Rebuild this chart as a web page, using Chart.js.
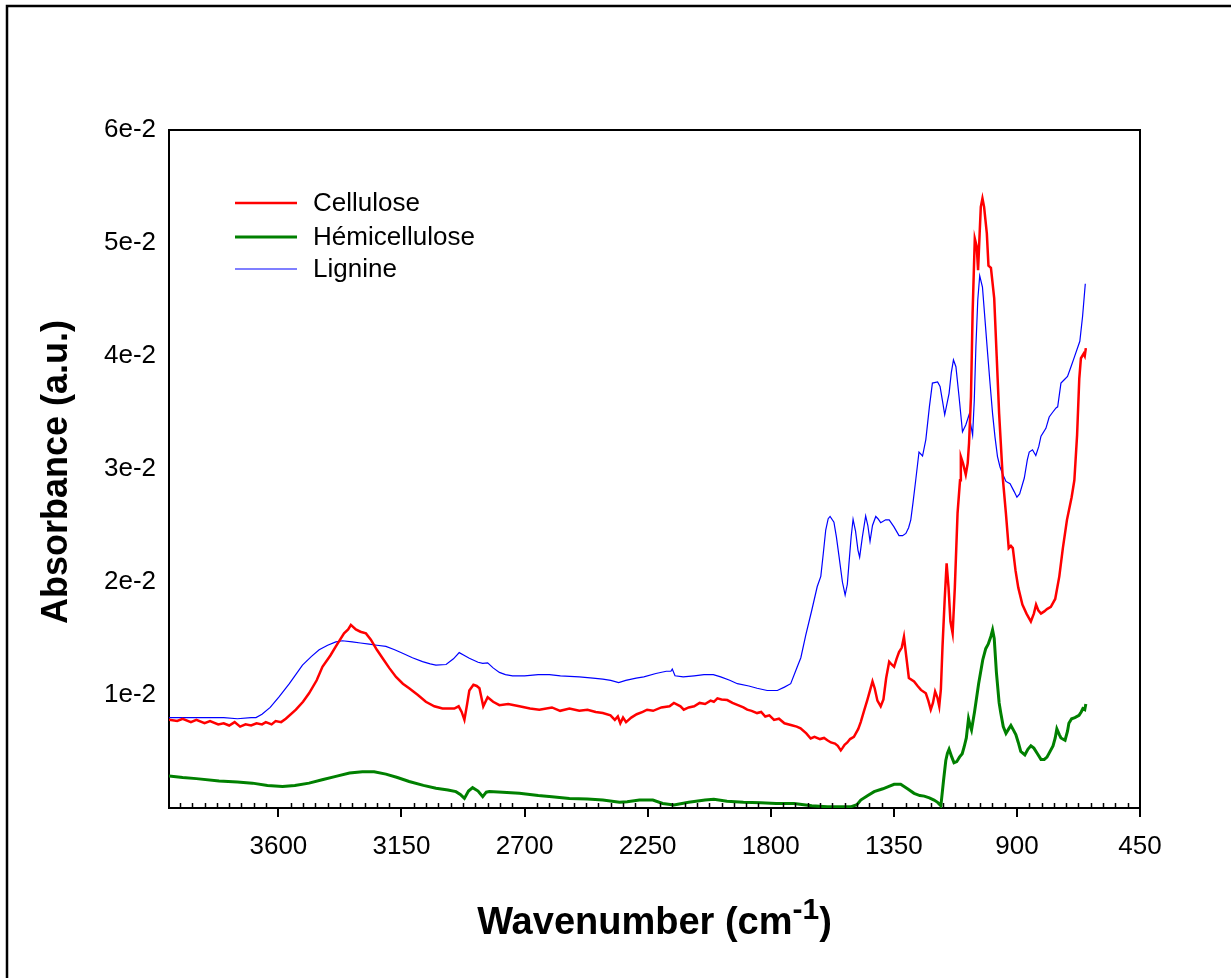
<!DOCTYPE html>
<html>
<head>
<meta charset="utf-8">
<script src="https://cdn.jsdelivr.net/npm/chart.js@4.4.1/dist/chart.umd.min.js"></script>
<style>
  html, body { margin: 0; padding: 0; background: #fff; }
  #cadre { width: 1231px; height: 978px; }
</style>
</head>
<body>
<div id="cadre"><canvas id="spectre" width="1231" height="978"></canvas></div>
<script>
const police = '"Liberation Sans", Arial, sans-serif';

// axes
const xTicks = [3600, 3150, 2700, 2250, 1800, 1350, 900, 450];
const yTicks = [1, 2, 3, 4, 5, 6]; // x 1e-2

// Cellulose (absorbance x 1e-2)
const celluloseWn = [4000,3970,3950,3920,3900,3870,3850,3820,3800,3780,3760,3740,3720,3700,3680,3660,3646,3625,3610,3590,3573,3536,3510,3488,3460,3439,3410,3390,3360,3345,3335,3317,3300,3280,3262,3240,3219,3195,3170,3145,3122,3090,3061,3030,3000,2957,2941,2930,2920,2910,2902,2887,2875,2865,2851,2835,2815,2792,2760,2719,2680,2646,2600,2570,2536,2500,2470,2440,2414,2386,2370,2359,2350,2340,2329,2310,2290,2268,2252,2230,2200,2170,2154,2130,2118,2100,2080,2060,2040,2020,2008,1995,1980,1959,1940,1920,1900,1886,1870,1850,1835,1820,1805,1788,1770,1750,1720,1705,1691,1670,1654,1640,1620,1605,1593,1580,1565,1555,1544,1538,1530,1520,1510,1496,1480,1471,1460,1447,1436,1428,1420,1410,1398,1388,1378,1367,1358,1349,1340,1331,1321,1313,1305,1295,1276,1263,1251,1233,1224,1215,1207,1199,1191,1184,1178,1172,1164,1157,1150,1143,1135,1127,1117,1108,1105,1097,1087,1080,1075,1068,1062,1054,1047,1042,1036,1032,1026,1020,1010,1004,995,983,974,965,952,940,930,922,915,905,895,880,865,849,838,830,822,812,800,790,776,760,745,732,717,700,690,680,672,666,656,652,648];
const celluloseAbs = [0.78,0.77,0.79,0.76,0.78,0.75,0.77,0.74,0.75,0.73,0.76,0.72,0.74,0.73,0.75,0.74,0.76,0.74,0.77,0.76,0.79,0.87,0.94,1.015,1.13,1.25,1.35,1.43,1.545,1.58,1.62,1.58,1.56,1.545,1.49,1.40,1.325,1.24,1.16,1.10,1.06,1.00,0.94,0.90,0.88,0.88,0.90,0.85,0.78,0.92,1.04,1.09,1.08,1.06,0.90,0.98,0.94,0.91,0.92,0.90,0.88,0.87,0.89,0.86,0.88,0.86,0.87,0.85,0.84,0.82,0.78,0.81,0.75,0.80,0.76,0.80,0.83,0.85,0.87,0.86,0.89,0.90,0.93,0.90,0.87,0.89,0.90,0.93,0.92,0.95,0.94,0.97,0.96,0.955,0.93,0.91,0.89,0.87,0.86,0.84,0.85,0.81,0.82,0.78,0.79,0.75,0.73,0.72,0.705,0.66,0.615,0.63,0.61,0.62,0.60,0.58,0.57,0.55,0.51,0.53,0.56,0.58,0.61,0.63,0.70,0.76,0.85,0.955,1.05,1.12,1.06,0.95,0.90,0.96,1.15,1.295,1.27,1.25,1.32,1.38,1.42,1.515,1.35,1.15,1.12,1.08,1.045,1.015,0.95,0.87,0.93,1.03,0.98,0.90,1.05,1.43,1.85,2.165,1.95,1.65,1.545,1.95,2.61,2.90,3.11,3.05,2.95,3.05,3.23,3.64,4.38,5.04,4.97,4.76,5.10,5.32,5.395,5.32,5.085,4.80,4.78,4.51,4.00,3.49,2.93,2.60,2.30,2.32,2.30,2.10,1.95,1.80,1.72,1.65,1.72,1.80,1.75,1.72,1.74,1.76,1.78,1.85,2.05,2.30,2.55,2.75,2.90,3.30,3.80,3.98,4.02,4.00,4.07];

// Hémicellulose (absorbance x 1e-2)
const hemiWn = [4000,3950,3900,3817,3750,3695,3640,3585,3540,3488,3440,3390,3340,3293,3250,3207,3165,3122,3070,3024,2980,2951,2935,2920,2905,2890,2870,2853,2840,2829,2780,2719,2650,2600,2536,2470,2414,2353,2325,2280,2231,2195,2154,2100,2040,2008,1960,1900,1837,1780,1715,1650,1593,1550,1508,1485,1471,1445,1422,1390,1370,1349,1325,1300,1276,1255,1239,1220,1203,1190,1178,1168,1160,1154,1148,1138,1130,1120,1110,1100,1093,1085,1077,1070,1066,1055,1040,1025,1014,1005,995,989,983,975,965,959,950,940,930,922,915,904,895,886,871,860,849,838,825,812,800,790,768,760,754,745,739,724,715,710,700,688,673,665,659,652,648];
const hemiAbs = [0.283,0.27,0.26,0.24,0.23,0.22,0.20,0.19,0.20,0.22,0.25,0.28,0.31,0.32,0.32,0.30,0.27,0.235,0.20,0.175,0.16,0.145,0.12,0.085,0.15,0.18,0.15,0.10,0.14,0.145,0.14,0.13,0.11,0.10,0.085,0.08,0.07,0.05,0.055,0.07,0.07,0.04,0.027,0.05,0.07,0.077,0.06,0.05,0.047,0.04,0.04,0.02,0.01,0.01,0.01,0.03,0.07,0.11,0.145,0.17,0.19,0.21,0.21,0.17,0.13,0.11,0.105,0.09,0.07,0.05,0.02,0.25,0.42,0.485,0.52,0.45,0.40,0.41,0.45,0.48,0.54,0.62,0.79,0.72,0.69,0.85,1.10,1.31,1.41,1.45,1.52,1.575,1.50,1.20,0.93,0.84,0.72,0.66,0.70,0.73,0.70,0.65,0.58,0.50,0.47,0.52,0.55,0.53,0.48,0.43,0.43,0.45,0.55,0.62,0.70,0.65,0.62,0.60,0.68,0.75,0.79,0.80,0.82,0.85,0.88,0.87,0.92];

// Lignine (absorbance x 1e-2)
const lignineWn = [4000,3900,3800,3750,3700,3682,3660,3630,3597,3560,3512,3480,3451,3420,3390,3366,3330,3300,3268,3240,3207,3175,3146,3110,3073,3045,3024,2987,2960,2939,2920,2902,2870,2853,2835,2815,2792,2770,2744,2700,2650,2609,2569,2500,2450,2414,2385,2356,2330,2292,2264,2220,2182,2165,2160,2150,2120,2080,2044,2010,1983,1950,1922,1880,1850,1813,1776,1750,1727,1703,1690,1672,1650,1630,1617,1608,1599,1590,1583,1569,1560,1550,1538,1528,1520,1514,1506,1499,1490,1481,1475,1465,1453,1445,1437,1428,1416,1408,1398,1380,1367,1350,1331,1318,1306,1296,1288,1280,1270,1258,1245,1233,1220,1209,1190,1181,1172,1164,1148,1140,1132,1123,1112,1099,1087,1075,1062,1056,1050,1043,1036,1026,1016,1007,998,989,980,971,962,953,940,925,910,900,890,873,862,855,843,831,820,812,794,782,770,757,751,739,727,715,700,690,670,660,650];
const lignineAbs = [0.80,0.80,0.80,0.79,0.80,0.80,0.83,0.89,0.985,1.10,1.265,1.34,1.40,1.44,1.47,1.48,1.47,1.46,1.45,1.44,1.43,1.40,1.37,1.33,1.295,1.275,1.265,1.27,1.32,1.375,1.35,1.325,1.29,1.28,1.285,1.24,1.20,1.18,1.17,1.17,1.18,1.18,1.17,1.16,1.15,1.14,1.13,1.11,1.13,1.15,1.16,1.19,1.21,1.21,1.23,1.17,1.16,1.17,1.18,1.18,1.16,1.13,1.10,1.08,1.06,1.04,1.04,1.07,1.10,1.25,1.33,1.53,1.75,1.96,2.05,2.25,2.46,2.56,2.58,2.53,2.40,2.22,2.00,1.885,1.98,2.165,2.40,2.555,2.45,2.28,2.22,2.40,2.585,2.50,2.36,2.50,2.58,2.56,2.525,2.55,2.55,2.49,2.41,2.41,2.43,2.48,2.55,2.70,2.90,3.15,3.115,3.26,3.55,3.76,3.77,3.73,3.60,3.48,3.67,3.85,3.965,3.905,3.65,3.33,3.39,3.48,3.30,3.60,4.08,4.50,4.71,4.61,4.30,4.02,3.75,3.49,3.28,3.11,3.02,2.96,2.89,2.87,2.80,2.75,2.78,2.92,3.08,3.15,3.17,3.12,3.20,3.29,3.36,3.46,3.50,3.54,3.55,3.76,3.79,3.82,3.92,3.99,4.13,4.35,4.64];

function points(wn, abs) {
  return wn.map((w, i) => ({ x: w, y: abs[i] }));
}

const series = [
  { label: 'Cellulose', data: points(celluloseWn, celluloseAbs), borderColor: '#ff0000', borderWidth: 2.5 },
  { label: 'Hémicellulose', data: points(hemiWn, hemiAbs), borderColor: '#008000', borderWidth: 3 },
  { label: 'Lignine', data: points(lignineWn, lignineAbs), borderColor: '#0000ff', borderWidth: 1.2 }
];

// frame, minor ticks, titles and legend
const decor = {
  id: 'decor',
  beforeDraw(chart) {
    const c = chart.ctx;
    c.save();
    c.fillStyle = '#fff';
    c.fillRect(0, 0, chart.width, chart.height);
    c.strokeStyle = '#000';
    c.lineWidth = 2.5;
    c.beginPath();
    c.moveTo(7, chart.height);
    c.lineTo(7, 6);
    c.lineTo(chart.width, 6);
    c.stroke();
    c.restore();
  },
  afterDraw(chart) {
    const c = chart.ctx;
    const a = chart.chartArea;
    const xs = chart.scales.x;
    c.save();
    c.strokeStyle = '#000';
    c.lineWidth = 2;
    c.beginPath();
    c.moveTo(a.left, a.top);
    c.lineTo(a.right, a.top);
    c.lineTo(a.right, a.bottom);
    c.stroke();

    c.lineWidth = 1.5;
    c.beginPath();
    for (let v = 450; v < 4000; v += 45) {
      if (xTicks.includes(v)) continue;
      const px = Math.round(xs.getPixelForValue(v)) + 0.5;
      c.moveTo(px, a.bottom);
      c.lineTo(px, a.bottom - 5);
    }
    c.stroke();

    // titres
    c.fillStyle = '#000';
    c.textBaseline = 'alphabetic';
    const t1 = 'Wavenumber (cm', sup = '-1', t2 = ')';
    const grand = 'bold 38px ' + police, petit = 'bold 30px ' + police;
    c.font = grand;
    const w1 = c.measureText(t1).width, w3 = c.measureText(t2).width;
    c.font = petit;
    const w2 = c.measureText(sup).width;
    const x0 = (a.left + a.right) / 2 - (w1 + w2 + w3) / 2;
    const base = 934;
    c.textAlign = 'left';
    c.font = grand;
    c.fillText(t1, x0, base);
    c.font = petit;
    c.fillText(sup, x0 + w1, base - 15);
    c.font = grand;
    c.fillText(t2, x0 + w1 + w2, base);

    c.save();
    c.font = 'bold 36px ' + police;
    c.translate(57, 472);
    c.rotate(-Math.PI / 2);
    c.textAlign = 'center';
    c.textBaseline = 'middle';
    c.fillText('Absorbance (a.u.)', 0, 0);
    c.restore();

    // légende
    c.font = '26px ' + police;
    c.textAlign = 'left';
    c.textBaseline = 'middle';
    const ly = [203, 237, 269];
    chart.data.datasets.forEach((d, i) => {
      c.strokeStyle = d.borderColor;
      c.lineWidth = d.borderWidth;
      c.beginPath();
      c.moveTo(235, ly[i]);
      c.lineTo(297, ly[i]);
      c.stroke();
      c.fillStyle = '#000';
      c.fillText(d.label, 313, ly[i] + 1);
    });
    c.restore();
  }
};

new Chart(document.getElementById('spectre'), {
  type: 'line',
  data: { datasets: series },
  plugins: [decor],
  options: {
    responsive: false,
    animation: false,
    devicePixelRatio: 1,
    layout: { padding: { top: 130, right: 91, left: 0, bottom: 0 } },
    elements: { point: { radius: 0 }, line: { tension: 0, fill: false } },
    plugins: { legend: { display: false }, tooltip: { enabled: false } },
    scales: {
      x: {
        type: 'linear',
        reverse: true,
        min: 450,
        max: 4000,
        afterBuildTicks: s => { s.ticks = xTicks.map(v => ({ value: v })); },
        afterFit: s => { s.height = 170; },
        grid: { display: true, drawOnChartArea: false, drawTicks: true, tickLength: 9, color: '#000', lineWidth: 2 },
        border: { display: true, color: '#000', width: 2 },
        ticks: { color: '#000', font: { family: police, size: 26 }, padding: 14, maxRotation: 0, autoSkip: false, callback: v => String(v) }
      },
      y: {
        min: 0,
        max: 6,
        afterBuildTicks: s => { s.ticks = yTicks.map(v => ({ value: v })); },
        afterFit: s => { s.width = 169; },
        grid: { display: false, drawTicks: false },
        border: { display: true, color: '#000', width: 2 },
        ticks: { color: '#000', font: { family: police, size: 26 }, padding: 13, callback: v => v + 'e-2' }
      }
    }
  }
});
</script>
</body>
</html>
